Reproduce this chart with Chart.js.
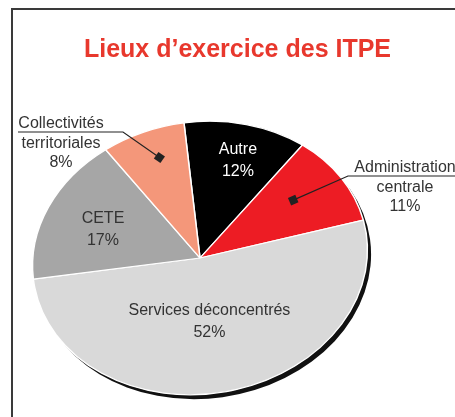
<!DOCTYPE html>
<html>
<head>
<meta charset="utf-8">
<script src="https://cdn.jsdelivr.net/npm/chart.js@4.4.1/dist/chart.umd.min.js"></script>
<style>
    html, body { margin: 0; padding: 0; background: #fff; }
    #wrap { position: relative; width: 455px; height: 417px; overflow: hidden; }
    #frame { position: absolute; left: 11px; top: 8px; width: 520px; height: 520px;
             border-left: 2px solid #3a3a3a; border-top: 2px solid #3a3a3a; }
    #pie { position: absolute; left: 0; top: 0; }
</style>
</head>
<body>
<div id="wrap">
    <div id="frame"></div>
    <canvas id="pie" width="455" height="417"></canvas>
</div>
<script>
// data
var categories = ['Autre', 'Administration centrale', 'Services déconcentrés', 'CETE', 'Collectivités territoriales'];
var shares = [12, 11, 52, 17, 8];
var sliceColors = ['#000000', '#ed1c24', '#d9d9d9', '#a6a6a6', '#f4977a'];
var labelColors = ['#ffffff', '#333333', '#333333', '#333333', '#333333'];

// how the flat pie is squashed and tilted on the page
var CENTER_X = 200, CENTER_Y = 258;
var SQUASH = 0.81;
var TILT = -8 * Math.PI / 180;

// where each label sits: depth along the slice middle (share of radius), plus a small nudge
var labelLayout = [
    { depth: 0.73, nx: 4, ny: 0 },
    { depth: 0.66, nx: 0, ny: -5, outside: true, textX: 405, textY: 168, lineY: 176, lineFrom: 348, lineTo: 470 },
    { depth: 0.47, nx: -3, ny: 1 },
    { depth: 0.64, nx: 0, ny: 4 },
    { depth: 0.80, nx: 5, ny: 0, outside: true, textX: 61, textY: 124, lineY: 132, lineFrom: 123, lineTo: 18 }
];

function toPage(arc, x, y) {
    var dx = x - arc.x, dy = (y - arc.y) * SQUASH;
    return {
        x: CENTER_X + dx * Math.cos(TILT) - dy * Math.sin(TILT),
        y: CENTER_Y + dx * Math.sin(TILT) + dy * Math.cos(TILT)
    };
}

function drawLabels(chart) {
    var ctx = chart.ctx;
    var arcs = chart.getDatasetMeta(0).data;
    ctx.save();
    ctx.textAlign = 'center';
    ctx.textBaseline = 'middle';
    ctx.font = '16px "Liberation Sans", "DejaVu Sans", sans-serif';
    arcs.forEach(function (arc, i) {
        var lay = labelLayout[i];
        var mid = (arc.startAngle + arc.endAngle) / 2;
        var r = arc.outerRadius * lay.depth;
        var p = toPage(arc, arc.x + Math.cos(mid) * r, arc.y + Math.sin(mid) * r);
        p.x += lay.nx;
        p.y += lay.ny;
        ctx.fillStyle = labelColors[i];
        if (!lay.outside) {
            ctx.fillText(categories[i], p.x, p.y - 11);
            ctx.fillText(shares[i] + '%', p.x, p.y + 11);
            return;
        }
        var words = categories[i].split(' ');
        words.push(shares[i] + '%');
        words.forEach(function (w, k) {
            ctx.fillText(w, lay.textX, lay.textY + k * 19.5);
        });
        // underline + leader to the slice
        ctx.strokeStyle = '#222';
        ctx.lineWidth = 1.2;
        ctx.beginPath();
        ctx.moveTo(lay.lineTo, lay.lineY);
        ctx.lineTo(lay.lineFrom, lay.lineY);
        ctx.lineTo(p.x, p.y);
        ctx.stroke();
        var ang = Math.atan2(p.y - lay.lineY, p.x - lay.lineFrom);
        ctx.save();
        ctx.translate(p.x, p.y);
        ctx.rotate(ang);
        ctx.fillStyle = '#222';
        ctx.fillRect(-4, -4, 8, 8);
        ctx.restore();
    });
    ctx.restore();
}

var ellipsePlugin = {
    id: 'ellipse',
    beforeDatasetsDraw: function (chart) {
        var arc = chart.getDatasetMeta(0).data[0];
        var ctx = chart.ctx;
        ctx.save();
        ctx.translate(CENTER_X, CENTER_Y);
        ctx.rotate(TILT);
        ctx.scale(1, SQUASH);
        ctx.translate(-arc.x, -arc.y);
        // drop shadow under the pie
        ctx.fillStyle = '#111';
        ctx.beginPath();
        ctx.arc(arc.x + 3, arc.y + 6, arc.outerRadius, 0, Math.PI * 2);
        ctx.fill();
    },
    afterDatasetsDraw: function (chart) {
        chart.ctx.restore();
        drawLabels(chart);
    }
};

new Chart(document.getElementById('pie'), {
    type: 'pie',
    data: {
        labels: categories,
        datasets: [{
            data: shares,
            backgroundColor: sliceColors,
            borderColor: '#ffffff',
            borderWidth: 1.5,
            radius: 168,
            clip: false
        }]
    },
    options: {
        responsive: false,
        animation: false,
        rotation: 1,
        layout: { padding: { left: 20 } },
        plugins: {
            legend: { display: false },
            tooltip: { enabled: false },
            title: {
                display: true,
                text: 'Lieux d\u2019exercice des ITPE',
                color: '#e8382d',
                font: { family: '"Liberation Sans", sans-serif', size: 25, weight: 'bold' },
                padding: { top: 35, bottom: 0 }
            }
        }
    },
    plugins: [ellipsePlugin]
});
</script>
</body>
</html>
